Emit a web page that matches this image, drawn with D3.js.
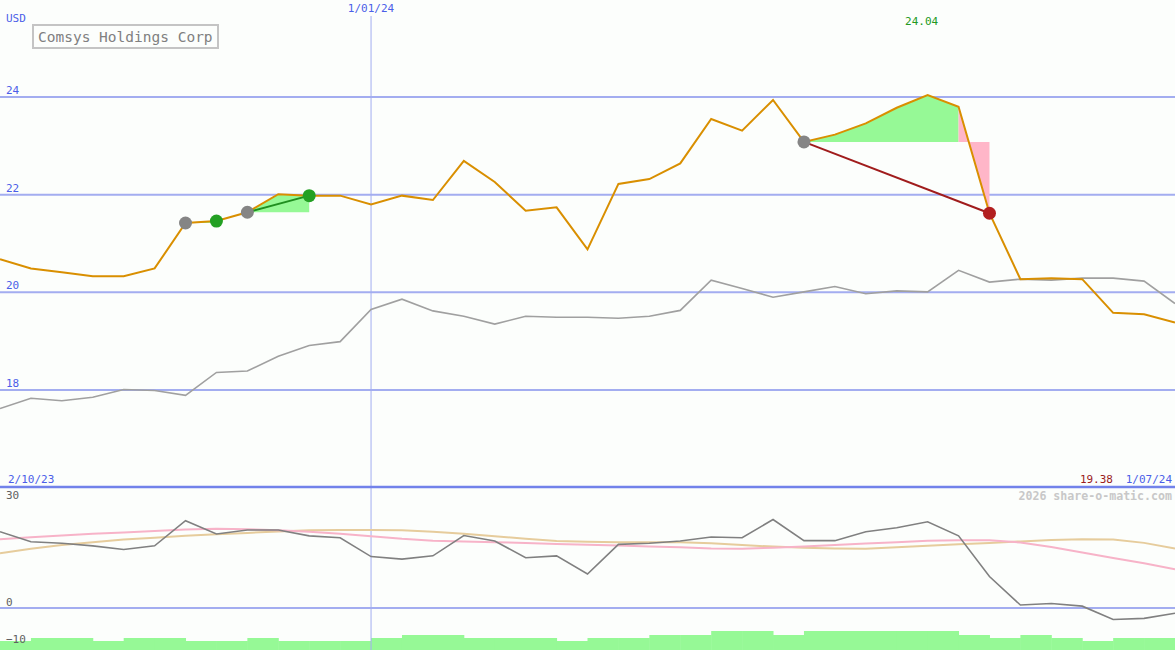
<!DOCTYPE html>
<html><head><meta charset="utf-8">
<script src="https://cdn.jsdelivr.net/npm/d3@7"></script>
<style>
html,body{margin:0;padding:0;background:#fcfefc;}
svg{display:block;}
text{font-family:"DejaVu Sans Mono","Liberation Mono",monospace;}
</style></head><body>
<svg id="c" width="1175" height="650"></svg>
<script>
// ---- data ----
const title = "Comsys Holdings Corp";
const currency = "USD";
const priceTicks = [18, 20, 22, 24];
const oscTicks = [30, 0, -10];
const startLabel = "2/10/23";
const endLabel = "1/07/24";
const midLabel = "1/01/24";
const midIndex = 12;
const highLabel = "24.04";
const lastLabel = "19.38";

const price = [20.68,20.49,20.41,20.33,20.33,20.49,21.42,21.46,21.64,22.01,21.98,21.98,21.80,21.98,21.89,22.69,22.26,21.67,21.74,20.88,22.22,22.32,22.64,23.55,23.31,23.94,23.08,23.23,23.46,23.78,24.04,23.80,21.62,20.27,20.29,20.27,19.58,19.55,19.38];
const compare = [17.62,17.83,17.78,17.85,18.01,17.99,17.89,18.36,18.39,18.69,18.91,18.99,19.65,19.86,19.62,19.51,19.35,19.51,19.49,19.49,19.47,19.51,19.63,20.25,20.08,19.90,20.01,20.12,19.97,20.03,20.01,20.45,20.21,20.27,20.25,20.29,20.29,20.23,19.77];
const osc = [20.6,17.9,17.5,16.8,15.8,16.8,23.6,20.0,21.1,21.1,19.5,19.0,13.9,13.2,14.1,19.6,18.1,13.6,14.1,9.2,17.2,17.5,18.1,19.2,19.0,23.9,18.2,18.2,20.6,21.7,23.3,19.5,8.5,0.8,1.2,0.5,-3.1,-2.8,-1.4];
const oscSlow = [18.6,19.1,19.6,20.1,20.4,20.8,21.2,21.4,21.3,21.0,20.6,20.1,19.4,18.7,18.2,18.0,17.8,17.6,17.3,17.1,16.9,16.6,16.4,16.1,16.0,16.3,16.6,17.0,17.4,17.8,18.2,18.3,18.3,17.7,16.5,15.0,13.5,12.1,10.5];
const oscSignal = [14.8,16.0,17.0,17.8,18.5,19.0,19.5,19.9,20.3,20.7,21.0,21.1,21.1,21.0,20.6,20.1,19.4,18.7,18.1,17.9,17.8,17.8,17.8,17.5,17.0,16.6,16.3,16.1,16.0,16.4,16.8,17.2,17.6,18.0,18.4,18.6,18.5,17.6,16.1];
const volume = [9,12,12,9,12,12,9,9,12,9,9,9,12,15,15,12,12,12,9,12,12,15,15,19,19,15,19,19,19,19,19,15,12,15,12,9,12,12];
const grayDots = [6, 8, 26];
const greenDots = [7, 10];
const redDots = [32];
const buyTrades = [[6,7],[8,10]];
const openTrade = [26,31];
const sellTrade = [26,32];

// ---- scales ----
const W = 1175, H = 650;
const svg = d3.select("#c");
const x = d3.scaleLinear().domain([0, price.length - 1]).range([0, W]);
const y = d3.scaleLinear().domain([18, 24]).range([390, 97]);
const yo = d3.scaleLinear().domain([-10, 30]).range([645, 497]);
const yv = d3.scaleLinear().domain([0, 20]).range([650, 630]);

const blueTxt = "#4b5ee8", grid = "#a3adf0";

svg.append("rect").attr("width", W).attr("height", H).attr("fill", "#fcfefc");

// volume bars
svg.append("g").selectAll("rect").data(volume).join("rect")
  .attr("x", (d, i) => x(i)).attr("width", (d, i) => x(i + 1) - x(i) + 0.5)
  .attr("y", d => yv(d)).attr("height", d => yv(0) - yv(d))
  .attr("fill", "#96f996");

// price grid
svg.append("g").selectAll("line").data(priceTicks).join("line")
  .attr("x1", 0).attr("x2", W).attr("y1", d => y(d)).attr("y2", d => y(d))
  .attr("stroke", grid).attr("stroke-width", 2);
svg.append("g").selectAll("text").data(priceTicks).join("text")
  .attr("x", 6).attr("y", d => y(d) - 3).text(d => d)
  .attr("font-size", 11).attr("fill", blueTxt);

// oscillator zero line
svg.append("line").attr("x1", 0).attr("x2", W).attr("y1", yo(0)).attr("y2", yo(0))
  .attr("stroke", grid).attr("stroke-width", 2);

// vertical date line
svg.append("line").attr("x1", x(midIndex)).attr("x2", x(midIndex)).attr("y1", 16).attr("y2", H)
  .attr("stroke", grid).attr("stroke-width", 1);

// separator
svg.append("line").attr("x1", 0).attr("x2", W).attr("y1", 487).attr("y2", 487)
  .attr("stroke", "#7282ea").attr("stroke-width", 2.5);

// trade fills
function fillPoly(a, b, base) {
  const pts = [];
  for (let i = a; i <= b; i++) pts.push([x(i), y(price[i])]);
  pts.push([x(b), y(base)]); pts.push([x(a), y(base)]);
  return pts;
}
const line0 = d3.line();
buyTrades.forEach(([a, b]) => {
  svg.append("path").attr("d", line0(fillPoly(a, b, price[a])) + "Z").attr("fill", "#96f996");
});
svg.append("path").attr("d", line0(fillPoly(openTrade[0], openTrade[1], price[openTrade[0]])) + "Z").attr("fill", "#96f996");
{
  const a = openTrade[1], b = sellTrade[1], base = price[openTrade[0]];
  const pts = [[x(a), y(price[a])], [x(b), y(price[b])], [x(b), y(base)], [x(a), y(base)]];
  svg.append("path").attr("d", line0(pts) + "Z").attr("fill", "#ffb6c8");
}

// compare line
const lp = d3.line().x((d, i) => x(i)).y(d => y(d));
svg.append("path").attr("d", lp(compare)).attr("fill", "none").attr("stroke", "#a0a0a0").attr("stroke-width", 1.6);
// price line
svg.append("path").attr("d", lp(price)).attr("fill", "none").attr("stroke", "#d98f00").attr("stroke-width", 2);

// trade lines
svg.append("line").attr("x1", x(8)).attr("y1", y(price[8])).attr("x2", x(10)).attr("y2", y(price[10]))
  .attr("stroke", "#1f8f1f").attr("stroke-width", 2);
svg.append("line").attr("x1", x(sellTrade[0])).attr("y1", y(price[sellTrade[0]])).attr("x2", x(sellTrade[1])).attr("y2", y(price[sellTrade[1]]))
  .attr("stroke", "#a01c1c").attr("stroke-width", 2);

// dots
const dot = (idx, col) => svg.append("g").selectAll("circle").data(idx).join("circle")
  .attr("cx", i => x(i)).attr("cy", i => y(price[i])).attr("r", 6.5).attr("fill", col);
dot(grayDots, "#858585");
dot(greenDots, "#23a023");
dot(redDots, "#b21f1f");

// oscillator lines
const lo = d3.line().x((d, i) => x(i)).y(d => yo(d));
svg.append("path").attr("d", lo(oscSignal)).attr("fill", "none").attr("stroke", "#e6cc9c").attr("stroke-width", 2);
svg.append("path").attr("d", lo(oscSlow)).attr("fill", "none").attr("stroke", "#f7b3c8").attr("stroke-width", 2);
svg.append("path").attr("d", lo(osc)).attr("fill", "none").attr("stroke", "#808080").attr("stroke-width", 1.6);

// oscillator labels
svg.append("g").selectAll("text").data(oscTicks).join("text")
  .attr("x", 6).attr("y", d => d === 30 ? yo(d) + 2 : yo(d) - 2).text(d => d === -10 ? "\u221210" : d)
  .attr("font-size", 11).attr("fill", "#606060");

// texts
svg.append("text").attr("x", 6).attr("y", 22).text(currency).attr("font-size", 11).attr("fill", blueTxt);
svg.append("rect").attr("x", 33).attr("y", 25).attr("width", 185).attr("height", 23)
  .attr("fill", "#fcfefc").attr("stroke", "#c4c4c4").attr("stroke-width", 2);
svg.append("text").attr("x", 38).attr("y", 42).text(title).attr("font-size", 14.5).attr("fill", "#808080");
svg.append("text").attr("x", x(midIndex)).attr("y", 12).attr("text-anchor", "middle").text(midLabel)
  .attr("font-size", 11).attr("fill", blueTxt);
svg.append("text").attr("x", x(30) - 6).attr("y", 25).attr("text-anchor", "middle").text(highLabel)
  .attr("font-size", 11).attr("fill", "#229922");
svg.append("text").attr("x", 8).attr("y", 483).text(startLabel).attr("font-size", 11).attr("fill", blueTxt);
svg.append("text").attr("x", 1172).attr("y", 483).attr("text-anchor", "end").text(endLabel).attr("font-size", 11).attr("fill", blueTxt);
svg.append("text").attr("x", 1113).attr("y", 483).attr("text-anchor", "end").text(lastLabel).attr("font-size", 11).attr("fill", "#9b1c1c");
svg.append("text").attr("x", 1172).attr("y", 500).attr("text-anchor", "end").text("2026 share-o-matic.com")
  .attr("font-size", 11.6).attr("font-weight", "bold").attr("fill", "#c8c8c8");
</script>
</body></html>
